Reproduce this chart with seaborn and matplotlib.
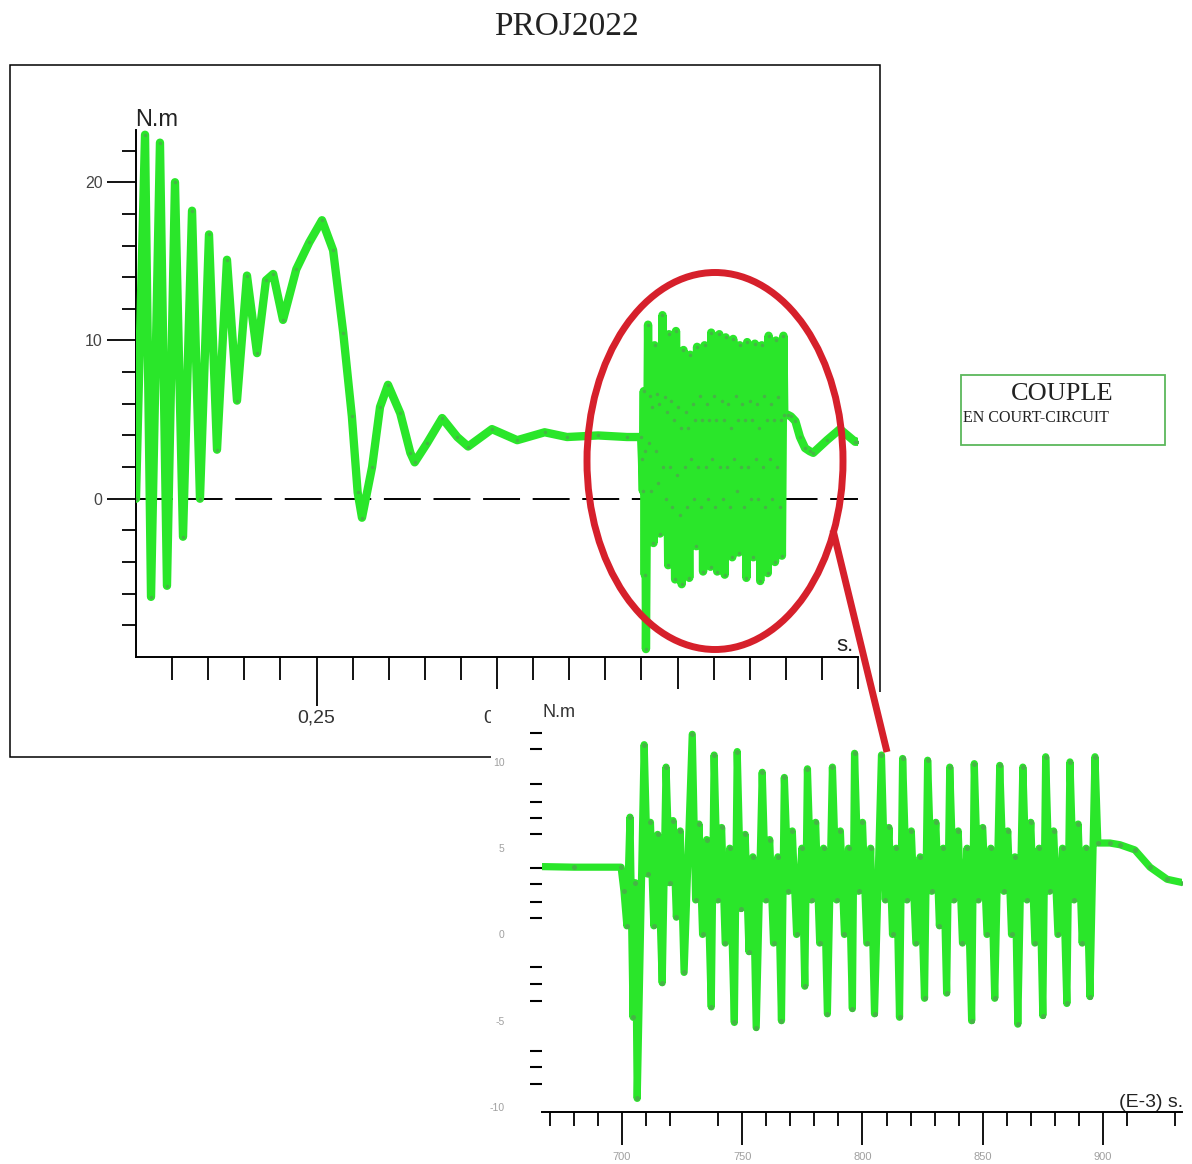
import numpy as np
import pandas as pd
import matplotlib
matplotlib.use("Agg")
import matplotlib.pyplot as plt
import seaborn as sns
from matplotlib.patches import Rectangle, Ellipse
from matplotlib.lines import Line2D
from matplotlib.transforms import Affine2D

# ---------------- data ----------------
start_time_s = [0.000, 0.0125, 0.0208, 0.0332, 0.0429, 0.0540, 0.0651, 0.0776, 0.0886, 0.1011,
                0.1122, 0.1260, 0.1399, 0.1537, 0.1676, 0.1800, 0.1900, 0.2036, 0.2220, 0.2400,
                0.2576, 0.2730, 0.2870, 0.2990, 0.3070, 0.3130, 0.3270, 0.3380, 0.3490, 0.3660,
                0.3800, 0.3860, 0.4030, 0.4240, 0.4450, 0.4600, 0.4930, 0.5280, 0.5660, 0.5970,
                0.6400, 0.6800]
start_torque = [0.0, 23.0, -6.2, 22.5, -5.5, 20.0, -2.4, 18.2, 0.0, 16.7,
                3.1, 15.1, 6.2, 14.1, 9.2, 13.8, 14.2, 11.3, 14.5, 16.2,
                17.6, 15.7, 10.5, 5.2, 0.4, -1.2, 2.0, 5.8, 7.2, 5.4,
                2.9, 2.3, 3.5, 5.1, 3.9, 3.3, 4.4, 3.7, 4.2, 3.9,
                4.0, 3.9]

# short-circuit window (ms)
sc_time_ms = [699.6, 700.8, 702.0, 703.3, 704.6, 705.5, 706.3, 709.2, 710.6, 711.8, 713.2, 714.8,
              716.7, 718.3, 719.8, 721.2, 722.6, 724.2,
              725.8, 729.2, 730.6, 732.0, 733.5, 735.2,
              737.1, 738.3, 739.8, 741.4, 742.9, 744.8,
              746.7, 747.9, 749.5, 751.2, 752.8, 754.4,
              755.8, 758.3, 759.8, 761.4, 763.0, 764.8,
              766.3, 767.5, 769.2, 770.8, 772.6, 774.8,
              776.0, 777.1, 778.8, 780.5, 782.2, 783.8,
              785.4, 787.5, 789.2, 790.8, 792.5, 794.2,
              795.8, 796.7, 798.4, 800.0, 801.8, 803.4,
              805.0, 807.9, 809.5, 811.0, 812.5, 814.0,
              815.4, 816.7, 818.5, 820.3, 822.2, 824.0,
              825.8, 827.1, 828.8, 830.5, 832.0, 833.6,
              835.0, 836.3, 838.0, 839.8, 841.6, 843.5,
              845.4, 846.5, 848.2, 850.0, 851.8, 853.4,
              855.0, 857.1, 858.8, 860.4, 862.0, 863.4,
              864.6, 866.7, 868.4, 870.0, 871.7, 873.5,
              875.0, 876.2, 877.8, 879.5, 881.3, 883.2,
              885.0, 886.3, 888.0, 889.7, 891.4, 893.0,
              894.6, 896.7, 897.9, 902.9, 907.1, 913.3, 919.6, 926.7, 933.3]
sc_torque = [3.9, 2.5, 0.5, 6.8, -4.8, 3.0, -9.5, 11.0, 3.5, 6.5, 0.5, 5.8,
             -2.8, 9.7, 3.0, 6.6, 1.0, 6.0,
             -2.2, 11.6, 2.0, 6.4, 0.0, 5.5,
             -4.2, 10.4, 2.0, 6.2, -0.5, 5.0,
             -5.1, 10.6, 1.5, 5.8, -1.0, 4.5,
             -5.4, 9.4, 2.0, 5.5, -0.5, 4.5,
             -5.0, 9.1, 2.5, 6.0, 0.0, 5.0,
             -3.0, 9.6, 2.0, 6.5, -0.5, 5.0,
             -4.6, 9.7, 2.0, 6.0, 0.0, 5.0,
             -4.3, 10.5, 2.5, 6.5, -0.5, 5.0,
             -4.6, 10.4, 2.0, 6.2, 0.0, 5.0,
             -4.8, 10.2, 2.0, 6.0, -0.5, 4.5,
             -3.7, 10.1, 2.5, 6.5, 0.5, 5.0,
             -3.4, 9.7, 2.0, 6.0, -0.5, 5.0,
             -5.0, 9.9, 2.0, 6.2, 0.0, 5.0,
             -3.7, 9.8, 2.5, 6.0, 0.0, 4.5,
             -5.2, 9.7, 2.0, 6.5, -0.5, 5.0,
             -4.7, 10.3, 2.5, 6.0, 0.0, 5.0,
             -4.0, 10.0, 2.0, 6.4, -0.5, 5.0,
             -3.6, 10.3, 5.3, 5.3, 5.2, 4.9, 3.9, 3.2, 3.0]

end_time_s = [0.938, 0.957, 0.975, 0.996, 1.000]
end_torque = [2.9, 3.7, 4.4, 3.6, 3.6]

main_xticks = [0.25, 0.5, 0.75, 1.0]
main_xticklabels = ["0,25", "0,5", "", ""]
main_yticks = [0, 10, 20]
inset_xticks = [700, 750, 800, 850, 900]
inset_yticks = [-10, -5, 0, 5, 10]

assert len(sc_time_ms) == len(sc_torque)
assert len(start_time_s) == len(start_torque)

time_s = start_time_s + [m / 1000.0 for m in sc_time_ms] + end_time_s
torque = start_torque + sc_torque + end_torque
df = pd.DataFrame({"t": time_s, "torque": torque})
df["t_ms"] = df["t"] * 1000.0

# ---------------- style ----------------
sns.set_style("white")
plt.rcParams["font.family"] = ["Liberation Sans", "DejaVu Sans"]

W, H = 1192, 1164
GREEN = "#2ae62a"
DOT = "#46b446"
RED = "#d6202b"

fig = plt.figure(figsize=(W / 100, H / 100), dpi=100)
fig.patch.set_facecolor("white")
tpx = Affine2D().scale(1.0 / W, -1.0 / H).translate(0, 1) + fig.transFigure


def ax_rect(x0, y0, x1, y1):
    return [x0 / W, 1 - y1 / H, (x1 - x0) / W, (y1 - y0) / H]


# outer frame of the main chart
fig.add_artist(Rectangle((10, 65), 870, 692, transform=tpx, fill=False,
                         ec="black", lw=1.1, zorder=0.5))

# ---------------- main axes ----------------
ax = fig.add_axes(ax_rect(136, 130, 858, 657), zorder=1)
ax.set_facecolor("none")
ax.axhline(0, color="black", lw=1.4, ls=(0, (19, 6.5)), zorder=2)
sns.lineplot(data=df, x="t", y="torque", ax=ax, sort=False, estimator=None,
             color=GREEN, lw=6, marker="o", ms=2.5, mfc=DOT, mec="none",
             solid_joinstyle="round", zorder=3)
ax.set_xlim(0, 1.0)
ax.set_ylim(-10, 23.3)
ax.set_xlabel("")
ax.set_ylabel("")
for s in ["top", "right"]:
    ax.spines[s].set_visible(False)
for s in ["left", "bottom"]:
    ax.spines[s].set_linewidth(1.4)
    ax.spines[s].set_color("black")

ax.set_xticks(main_xticks)
ax.set_xticklabels(main_xticklabels)
ax.set_xticks([0.05, 0.1, 0.15, 0.2, 0.3, 0.35, 0.4, 0.45, 0.55, 0.6, 0.65, 0.7,
               0.8, 0.85, 0.9, 0.95], minor=True)
ax.tick_params(axis="x", which="both", bottom=True, top=False)
ax.tick_params(axis="y", which="both", left=True, right=False)
ax.tick_params(axis="x", which="major", direction="out", length=35, width=1.3,
               pad=3, labelsize=14, labelcolor="#333333", color="black")
ax.tick_params(axis="x", which="minor", direction="out", length=16.5, width=1.3,
               color="black")
for tk in ax.xaxis.get_major_ticks()[1:]:
    tk.tick1line.set_markersize(23)

ax.set_yticks(main_yticks)
ax.set_yticklabels([str(v) for v in main_yticks])
ax.set_yticks([-8, -6, -4, -2, 2, 4, 6, 8, 12, 14, 16, 18, 22], minor=True)
ax.tick_params(axis="y", which="major", direction="out", length=21, width=1.3,
               pad=3, labelsize=11.5, labelcolor="#444444", color="black")
ax.tick_params(axis="y", which="minor", direction="out", length=10, width=1.3,
               color="black")

fig.text(135, 126, "N.m", transform=tpx, fontsize=17, color="#222222", va="baseline")
fig.text(836, 651, "s.", transform=tpx, fontsize=16, color="#222222", va="baseline")

# title
fig.text(566, 35, "PROJ2022", transform=tpx, fontsize=24, ha="center", va="baseline",
         family=["Liberation Serif", "DejaVu Serif"], color="#222222")

# legend-like box
fig.add_artist(Rectangle((961, 375), 204, 70, transform=tpx, fc="white",
                         ec="#5cb85c", lw=1.3, zorder=1))
fig.text(1062, 400, "COUPLE", transform=tpx, fontsize=19, ha="center", va="baseline",
         family=["Liberation Serif", "DejaVu Serif"], color="#222222", zorder=2)
fig.text(963, 422, "EN COURT-CIRCUIT", transform=tpx, fontsize=11.5, ha="left",
         va="baseline", family=["Liberation Serif", "DejaVu Serif"], color="#222222",
         zorder=2)

# ---------------- inset (zoom) ----------------
fig.add_artist(Rectangle((491, 692), W - 491, H - 692, transform=tpx, fc="white",
                         ec="none", zorder=2))
ax2 = fig.add_axes(ax_rect(542, 720, 1182, 1112), zorder=3)
ax2.set_facecolor("none")
sns.lineplot(data=df, x="t_ms", y="torque", ax=ax2, sort=False, estimator=None,
             color=GREEN, lw=5.2, marker="o", ms=3.6, mfc=DOT, mec="none",
             solid_joinstyle="round")
ax2.set_xlim(666.7, 932.9)
ax2.set_ylim(-10.29, 12.43)
ax2.set_xlabel("")
ax2.set_ylabel("")
for s in ["top", "right", "left"]:
    ax2.spines[s].set_visible(False)
ax2.spines["bottom"].set_linewidth(1.4)
ax2.spines["bottom"].set_color("black")

ax2.set_xticks(inset_xticks)
ax2.set_xticklabels([str(v) for v in inset_xticks])
ax2.set_xticks([670, 680, 690, 710, 720, 740, 760, 770, 780, 790, 810, 820, 830, 840,
                860, 870, 880, 890, 910, 930], minor=True)
ax2.tick_params(axis="x", which="both", bottom=True, top=False)
ax2.tick_params(axis="y", which="both", left=True, right=False)
ax2.tick_params(axis="x", which="major", direction="out", length=24, width=1.3,
                pad=5, labelsize=8, labelcolor="#a0a0a0", color="black")
ax2.tick_params(axis="x", which="minor", direction="out", length=10, width=1.3,
                color="black")

ax2.set_yticks(inset_yticks)
ax2.set_yticklabels([str(v) for v in inset_yticks])
ax2.set_yticks([11.7, 10.75, 8.7, 7.7, 6.75, 5.8, 3.85, 2.9, 1.9, 0.95,
                -1.9, -2.9, -3.85, -6.75, -7.7, -8.65], minor=True)
ax2.tick_params(axis="y", which="major", direction="out", length=0, pad=27,
                labelsize=7.5, labelcolor="#a0a0a0")
ax2.tick_params(axis="y", which="minor", direction="out", length=8.6, width=1.5,
                color="black")

fig.text(542, 717, "N.m", transform=tpx, fontsize=13, color="#333333",
         va="baseline", zorder=4)
fig.text(1183, 1107, "(E-3) s.", transform=tpx, fontsize=14, color="#222222",
         ha="right", va="baseline", zorder=4)

# ---------------- red highlight ----------------
fig.add_artist(Ellipse((715, 461), 256, 377, transform=tpx, fill=False, ec=RED,
                       lw=5, zorder=6))
fig.add_artist(Line2D([833, 887], [530, 752], transform=tpx, color=RED, lw=5,
                      solid_capstyle="butt", zorder=6))

fig.savefig("out.png", dpi=100, facecolor="white")
